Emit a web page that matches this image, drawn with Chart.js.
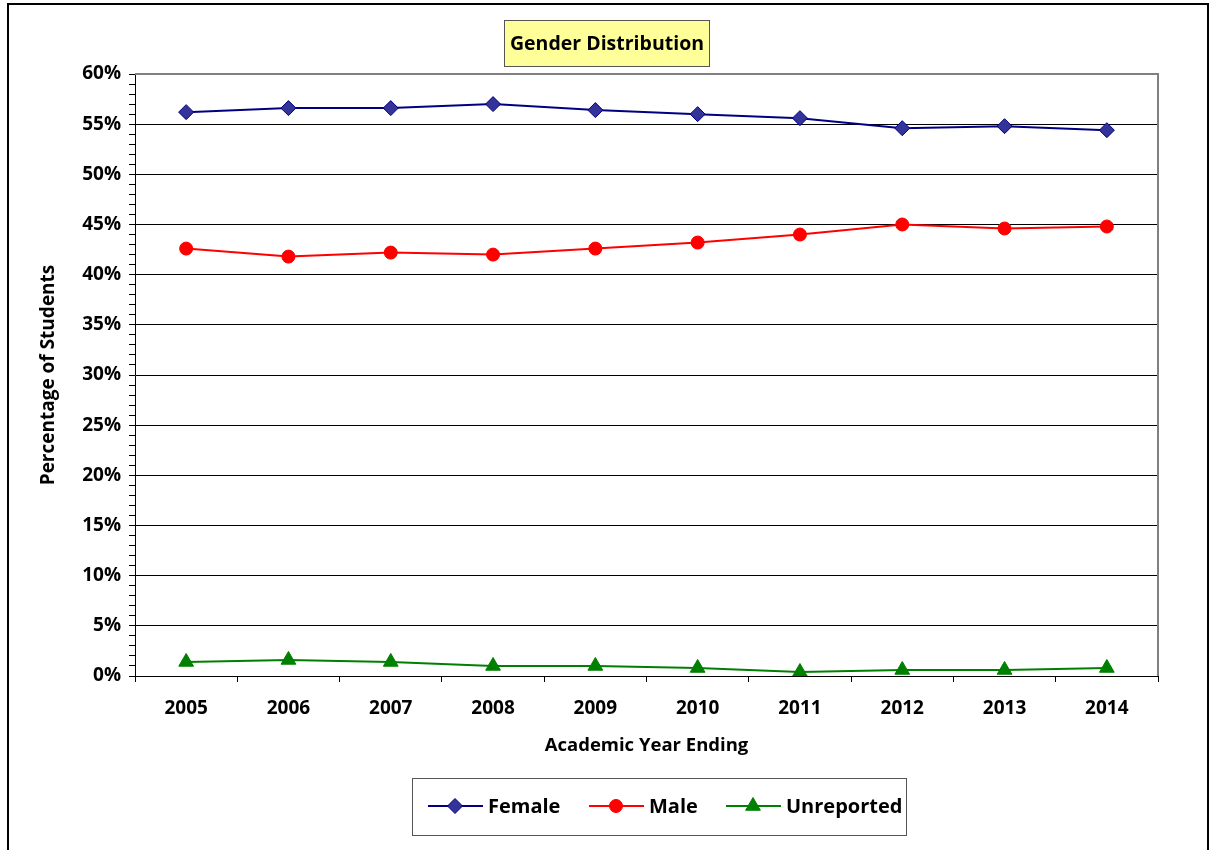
<!DOCTYPE html>
<html><head><meta charset="utf-8">
<script src="https://cdn.jsdelivr.net/npm/chart.js@4.4.1/dist/chart.umd.min.js"></script>
<style>html,body{margin:0;padding:0;background:#fff}#wrap{width:1210px;height:850px;position:relative}</style>
</head><body><div id="wrap"><canvas id="c" width="1210" height="850"></canvas></div>
<script>
const years = ['2005','2006','2007','2008','2009','2010','2011','2012','2013','2014'];
const female = [56.2,56.6,56.6,57.0,56.4,56.0,55.6,54.6,54.8,54.4];
const male = [42.6,41.8,42.2,42.0,42.6,43.2,44.0,45.0,44.6,44.8];
const unreported = [1.4,1.6,1.4,1.0,1.0,0.8,0.4,0.6,0.6,0.8];
const chartTitle = 'Gender Distribution';
const yTitle = 'Percentage of Students';
const xTitle = 'Academic Year Ending';
const FONT = '"Open Sans", "DejaVu Sans", sans-serif';

const deco = {
  id:'deco',
  beforeDraw(chart){
    const ctx = chart.ctx;
    ctx.save();
    ctx.fillStyle='#fff'; ctx.fillRect(0,0,chart.width,chart.height);
    ctx.restore();
  },
  afterDraw(chart){
    const ctx = chart.ctx, ca = chart.chartArea;
    ctx.save();
    ctx.strokeStyle='#808080'; ctx.lineWidth=2;
    ctx.beginPath(); ctx.moveTo(ca.left, ca.top); ctx.lineTo(ca.right, ca.top); ctx.lineTo(ca.right, ca.bottom); ctx.stroke();
    ctx.strokeStyle='#000'; ctx.lineWidth=2;
    ctx.strokeRect(8,4,1200,860);
    ctx.fillStyle='#FFFF99'; ctx.fillRect(504.5,20.5,205,46);
    ctx.strokeStyle='#555'; ctx.lineWidth=1; ctx.strokeRect(504.5,20.5,205,46);
    ctx.fillStyle='#000'; ctx.font='bold 19.5px '+FONT; ctx.textAlign='center'; ctx.textBaseline='middle';
    ctx.fillText(chartTitle, 607, 44);
    ctx.strokeStyle='#555'; ctx.strokeRect(412.5,778.5,494,57);
    const items=[[428,chart.data.datasets[0]],[589,chart.data.datasets[1]],[726,chart.data.datasets[2]]];
    ctx.font='bold 20px '+FONT; ctx.textAlign='left';
    items.forEach(([x,ds])=>{
      const y=806;
      ctx.strokeStyle=ds.borderColor; ctx.lineWidth=2;
      ctx.beginPath(); ctx.moveTo(x,y); ctx.lineTo(x+55,y); ctx.stroke();
      ctx.fillStyle=ds.pointBackgroundColor; ctx.strokeStyle=ds.pointBorderColor; ctx.lineWidth=1;
      Chart.helpers.drawPoint(ctx,{pointStyle:ds.pointStyle,radius:ds.pointRadius,borderWidth:1},x+27,y);
      ctx.fillStyle='#000';
      ctx.fillText(ds.label, x+60, y+1);
    });
    ctx.restore();
  }
};

new Chart(document.getElementById('c'),{
  type:'line',
  data:{labels:years,datasets:[
    {label:'Female',data:female,borderColor:'#000080',backgroundColor:'#333399',pointBackgroundColor:'#333399',pointBorderColor:'#000080',pointStyle:'rectRot',pointRadius:7.5,pointBorderWidth:1,borderWidth:2},
    {label:'Male',data:male,borderColor:'#FF0000',backgroundColor:'#FF0000',pointBackgroundColor:'#FF0000',pointBorderColor:'#FF0000',pointStyle:'circle',pointRadius:6.5,pointBorderWidth:1,borderWidth:2},
    {label:'Unreported',data:unreported,borderColor:'#008000',backgroundColor:'#008000',pointBackgroundColor:'#008000',pointBorderColor:'#008000',pointStyle:'triangle',pointRadius:8.5,pointBorderWidth:1,borderWidth:2}
  ]},
  options:{
    responsive:false,animation:false,
    layout:{padding:{left:37,top:74,right:52,bottom:93}},
    plugins:{legend:{display:false},title:{display:false},tooltip:{enabled:false}},
    scales:{
      x:{offset:true,
        grid:{offset:true,drawOnChartArea:false,color:'#000',tickColor:'#000',tickLength:6,lineWidth:1},
        border:{color:'#000',width:1},
        ticks:{color:'#000',font:{family:FONT,size:19,weight:'bold'},padding:15,maxRotation:0},
        title:{display:true,text:xTitle,color:'#000',font:{family:FONT,size:18.5,weight:'bold'},padding:0},
        afterFit(s){s.height=81;}
      },
      y:{min:0,max:60,
        grid:{color:(c)=> (c.tick && c.tick.value%5===0 && c.tick.value>0) ? '#000':'rgba(0,0,0,0)',tickColor:'#000',tickLength:6,lineWidth:1},
        border:{color:'#000',width:1},
        ticks:{stepSize:1,autoSkip:false,color:'#000',font:{family:FONT,size:19,weight:'bold'},padding:8,
          callback:(v)=> v%5===0 ? v+'%' : ''},
        title:{display:true,text:yTitle,color:'#000',font:{family:FONT,size:19,weight:'bold'},padding:0},
        afterFit(s){s.width=98;}
      }
    }
  },
  plugins:[deco]
});
</script></body></html>
